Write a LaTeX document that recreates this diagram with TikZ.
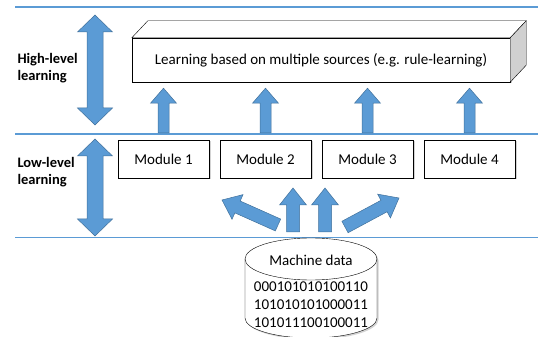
\documentclass[tikz,border=0pt]{standalone}
\usepackage{fontspec}
\setmainfont{Carlito}
\usetikzlibrary{positioning,calc,shadows}
\definecolor{arrowblue}{HTML}{5B9BD5}
\definecolor{arrowedge}{HTML}{41719C}
\definecolor{boxside}{HTML}{D0D0D0}
\tikzset{
  band/.style={draw=arrowblue,line width=1.3pt},
  blockarrow/.style={fill=arrowblue,draw=arrowedge,line width=0.5pt},
  boxshadow/.style={drop shadow={shadow xshift=1.5pt,shadow yshift=-1.5pt,opacity=0.35}},
  module/.style={draw,rectangle,fill=white,minimum width=91pt,minimum height=38pt,boxshadow},
  levellabel/.style={font=\fontsize{14.5}{17}\selectfont\bfseries,align=left,anchor=west},
}
% #1 tail, #2 tip, #3 half shaft, #4 half head, #5 head length
\newcommand{\blockarrow}[5]{%
  \coordinate (ba-h) at ($(#2)!#5!(#1)$);
  \filldraw[blockarrow] ($(#1)!#3!90:(#2)$) -- ($(ba-h)!#3!90:(#2)$) -- ($(ba-h)!#4!90:(#2)$)
    -- (#2) -- ($(ba-h)!#4!-90:(#2)$) -- ($(ba-h)!#3!-90:(#2)$) -- ($(#1)!#3!-90:(#2)$) -- cycle;
}
\newcommand{\doublearrow}[5]{%
  \coordinate (da-a) at ($(#1)!#5!(#2)$);
  \coordinate (da-b) at ($(#2)!#5!(#1)$);
  \filldraw[blockarrow] (#1) -- ($(da-a)!#4!90:(#2)$) -- ($(da-a)!#3!90:(#2)$) -- ($(da-b)!#3!-90:(#1)$)
    -- ($(da-b)!#4!-90:(#1)$) -- (#2) -- ($(da-b)!#4!90:(#1)$) -- ($(da-b)!#3!90:(#1)$)
    -- ($(da-a)!#3!-90:(#2)$) -- ($(da-a)!#4!-90:(#2)$) -- cycle;
}
\begin{document}
\begin{tikzpicture}[x=1pt,y=1pt,font=\fontsize{15}{18}\selectfont]
  \useasboundingbox (0,0) rectangle (538,337);

  \draw[band] (15,330) -- (538,330);
  \draw[band] (15,203) -- (538,203);
  \draw[band] (15,99.5) -- (538,99.5);

  \node[levellabel] (hilabel) at (14,269) {High-level\\learning};
  \node[levellabel] (lolabel) at (14,165) {Low-level\\learning};

  \coordinate (hi-top) at (95,322);
  \coordinate (hi-bot) at (95,212);
  \coordinate (lo-top) at (95,198);
  \coordinate (lo-bot) at (95,101);
  \doublearrow{hi-top}{hi-bot}{8pt}{17.5pt}{17pt}
  \doublearrow{lo-top}{lo-bot}{8pt}{17.5pt}{17pt}

  \node[draw,rectangle,fill=white,minimum width=378pt,minimum height=44pt,boxshadow] (learnbox) at (321,277)
    {Learning based on multiple sources (e.g. rule-learning)};
  \filldraw[fill=white] (learnbox.north west) -- ++(16,17) -- ($(learnbox.north east)+(16,17)$) -- (learnbox.north east) -- cycle;
  \filldraw[fill=boxside] (learnbox.north east) -- ++(16,17) -- ($(learnbox.south east)+(16,17)$) -- (learnbox.south east) -- cycle;

  \node[module] (m1) at (163.5,178) {Module 1};
  \node[module,right of=m1,node distance=102pt] (m2) {Module 2};
  \node[module,right of=m2,node distance=102pt] (m3) {Module 3};
  \node[module,right of=m3,node distance=102pt] (m4) {Module 4};

  \foreach \i in {1,...,4} {
    \coordinate (u\i) at ($(m\i.north)+(0,7)$);
    \coordinate (v\i) at ($(m\i.north |- learnbox.south)+(0,-6)$);
    \blockarrow{u\i}{v\i}{5.5pt}{13pt}{15pt}
  }

  \filldraw[fill=white,boxshadow] (245,78) -- (245,19) arc[start angle=180,end angle=360,x radius=66,y radius=20]
    -- (377,78) arc[start angle=0,end angle=180,x radius=66,y radius=21] -- cycle;
  \draw (245,78) arc[start angle=180,end angle=360,x radius=66,y radius=21];
  \node (data) at (311,77) {Machine data};
  \node[align=center] (bits) at (311,32) {000101010100110\\101010101000011\\101011100100011};

  \coordinate (c1) at (278,112);
  \coordinate (c2) at (293,105);
  \coordinate (c3) at (325,105);
  \coordinate (c4) at (345,110);
  \coordinate (d1) at (222,137);
  \coordinate (d2) at (293,149);
  \coordinate (d3) at (325,149);
  \coordinate (d4) at (399,139);
  \foreach \i in {1,...,4} {
    \blockarrow{c\i}{d\i}{6.5pt}{13.5pt}{17pt}
  }
\end{tikzpicture}
\end{document}
